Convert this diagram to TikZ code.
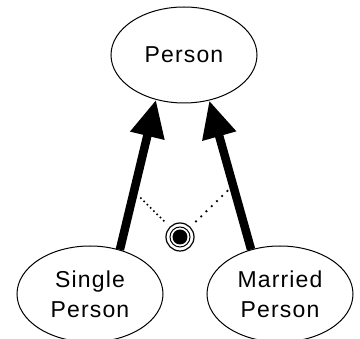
\documentclass[tikz,border=0pt]{standalone}
\usepackage{fontspec}
\setmainfont{Liberation Sans}
\usetikzlibrary{arrows.meta,positioning,shapes.geometric}

\begin{document}
\begin{tikzpicture}[x=1pt,y=-1pt,
  classnode/.style={draw,ellipse,line width=1pt,minimum width=146pt,
    minimum height=96pt,inner sep=0pt,align=center,
    font=\fontsize{23}{30}\selectfont\addfontfeature{LetterSpace=5}},
  isa/.style={line width=8.5pt,-{Triangle[length=37pt,width=33pt]}}]
  \useasboundingbox (0,0) rectangle (360,339);
  %% Classes
  \node[classnode] (person)  at (184,55)  {Person};
  \node[classnode] (single)  at (90,294)  {Single\\Person};
  \node[classnode] (married) at (280,294) {Married\\Person};
  %% Generalisation arrows (thick, to the parent)
  \draw[isa] (single.56)  -- coordinate[pos=0.39] (sa) (person.238);
  \draw[isa] (married.123) -- coordinate[pos=0.43] (ma) (person.299);
  %% Partition marker
  \node[circle,draw,line width=1.2pt,minimum size=28pt,inner sep=0pt]
       (part) at (180,237) {};
  \draw[line width=1pt] (part.center) circle[radius=10pt];
  \fill (part.center) circle[radius=7.5pt];
  %% Dotted links from the arrows to the marker
  \draw[line width=1.6pt,dash pattern=on 1.6pt off 3pt,
        shorten <=9pt,shorten >=5pt] (sa) -- (part);
  \draw[line width=1.8pt,dash pattern=on 1.8pt off 5.5pt,
        shorten <=7pt,shorten >=6pt] (ma) -- (part);
\end{tikzpicture}
\end{document}
